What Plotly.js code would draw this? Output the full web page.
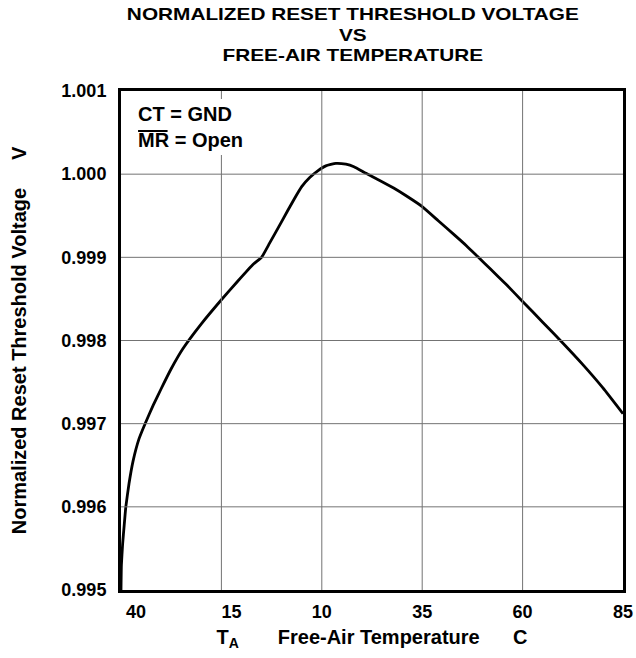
<!DOCTYPE html>
<html>
<head>
<meta charset="utf-8">
<script src="https://cdn.plot.ly/plotly-3.0.1.min.js"></script>
<style>html,body{margin:0;padding:0;background:#fff;}#chart{width:636px;height:658px;}</style>
</head>
<body>
<div id="chart"></div>
<script>
// Free-air temperature (°C)
const temperature = [-40, -39.9, -39.6, -39.2, -38.8, -38, -37, -35.5, -34, -32, -30, -27.5, -24.6, -20, -15, -11, -7, -5, -3, 0, 3, 5, 7, 9, 11, 13.5, 16, 18, 21, 25, 28, 31, 35, 39, 43, 46, 49, 52, 56, 60, 65, 70, 75, 80, 85];
// Normalized reset threshold voltage (V)
const voltage = [0.99500, 0.99530, 0.99555, 0.99578, 0.99600, 0.99628, 0.99655, 0.99682, 0.99700, 0.99722, 0.99742, 0.99766, 0.99790, 0.99820, 0.99849, 0.99871, 0.99892, 0.99900, 0.99917, 0.99943, 0.99969, 0.99985, 0.99996, 1.00004, 1.00010, 1.00013, 1.00012, 1.00009, 1.00001, 0.99991, 0.99983, 0.99974, 0.99961, 0.99944, 0.99927, 0.99914, 0.99900, 0.99886, 0.99867, 0.99847, 0.99822, 0.99797, 0.99771, 0.99743, 0.99712];
// Axis ticks (labels as printed on the reference)
const xTickVals = [-40, -15, 10, 35, 60, 85];
const xTickText = ["\u2007\u2007\u200740", "\u2007\u200715", "10", "35", "60", "85"];
const yTickVals = [0.995, 0.996, 0.997, 0.998, 0.999, 1.000, 1.001];
const yTickText = ["0.995", "0.996", "0.997", "0.998", "0.999", "1.000", "1.001"];
// Text
const titleLines = ["NORMALIZED RESET THRESHOLD VOLTAGE", "VS", "FREE-AIR TEMPERATURE"];
const noteLines = ["CT = GND", "MR = Open"];

const FONT = "Liberation Sans, Arial, Helvetica, sans-serif";
const NB = "\u00A0";
const GRID = "#737373";

const trace = {
  x: temperature,
  y: voltage,
  type: "scatter",
  mode: "lines",
  line: {color: "#000", width: 2.8, shape: "spline", smoothing: 0.4},
  hoverinfo: "skip",
  showlegend: false
};

// grid lines at the interior tick positions, taken from the tick arrays
const gridShapes = []
  .concat(xTickVals.slice(1, -1).map(v => ({type: "line", layer: "above", xref: "x", yref: "paper", x0: v, x1: v, y0: 0, y1: 1, line: {color: GRID, width: 1}})))
  .concat(yTickVals.slice(1, -1).map(v => ({type: "line", layer: "above", xref: "paper", yref: "y", x0: 0, x1: 1, y0: v, y1: v, line: {color: GRID, width: 1}})));

const layout = {
  width: 636,
  height: 658,
  margin: {l: 121, r: 13, t: 91, b: 68},
  paper_bgcolor: "#fff",
  plot_bgcolor: "rgba(0,0,0,0)",
  font: {family: FONT, color: "#000"},
  title: {
    text: "<b>" + titleLines.join("<br>") + "</b>",
    font: {family: FONT, size: 16, color: "#000"},
    x: 0.462, xref: "paper", xanchor: "center",
    y: 0.97, yref: "container", yanchor: "top"
  },
  xaxis: {
    range: [-40, 85],
    tickvals: xTickVals,
    ticktext: xTickText,
    tickfont: {family: FONT, size: 18, color: "#000", weight: "bold"},
    ticks: "outside",
    ticklen: 3,
    tickcolor: "rgba(0,0,0,0)",
    showgrid: false,
    showline: true,
    linecolor: "#000",
    linewidth: 3,
    mirror: true,
    zeroline: false,
    title: {
      text: "<b>T<sub>A</sub>" + NB.repeat(7) + "Free-Air Temperature" + NB.repeat(6) + "C</b>",
      font: {family: FONT, size: 20, color: "#000"},
      standoff: 10
    }
  },
  yaxis: {
    range: [0.995, 1.001],
    tickvals: yTickVals,
    ticktext: yTickText,
    tickfont: {family: FONT, size: 18, color: "#000", weight: "bold"},
    ticks: "outside",
    ticklen: 8,
    tickcolor: "rgba(0,0,0,0)",
    showgrid: false,
    showline: true,
    linecolor: "#000",
    linewidth: 3,
    mirror: true,
    zeroline: false,
    title: {
      text: "<b>Normalized Reset Threshold Voltage" + NB.repeat(5) + "V</b>",
      font: {family: FONT, size: 20, color: "#000"},
      standoff: 30
    }
  },
  shapes: gridShapes,
  annotations: [
    {text: "<b>" + noteLines.join("<br>") + "</b>", xref: "paper", yref: "paper", x: 0.026, y: 0.928, xanchor: "left", yanchor: "middle", align: "left", showarrow: false, bgcolor: "#fff", borderpad: 4, borderwidth: 0, font: {family: FONT, size: 20, color: "#000"}},
    {text: "", xref: "paper", yref: "paper", x: 0.034, y: 0.9198, showarrow: true, arrowhead: 0, arrowwidth: 2, arrowcolor: "#000", axref: "pixel", ayref: "pixel", ax: 31, ay: 0, standoff: 0, startstandoff: 0}
  ]
};

Plotly.newPlot("chart", [trace], layout, {displayModeBar: false, staticPlot: true}).then(function () {
  // the printed title is set in a horizontally wide face: widen it about its centre
  const t = document.querySelector("#chart .gtitle");
  if (t) {
    const bb = t.getBBox();
    const cx = bb.x + bb.width / 2;
    const prev = t.getAttribute("transform") || "";
    t.setAttribute("transform", prev + " translate(" + cx + ",0) scale(1.3,1) translate(" + (-cx) + ",0)");
  }
});
</script>
</body>
</html>
